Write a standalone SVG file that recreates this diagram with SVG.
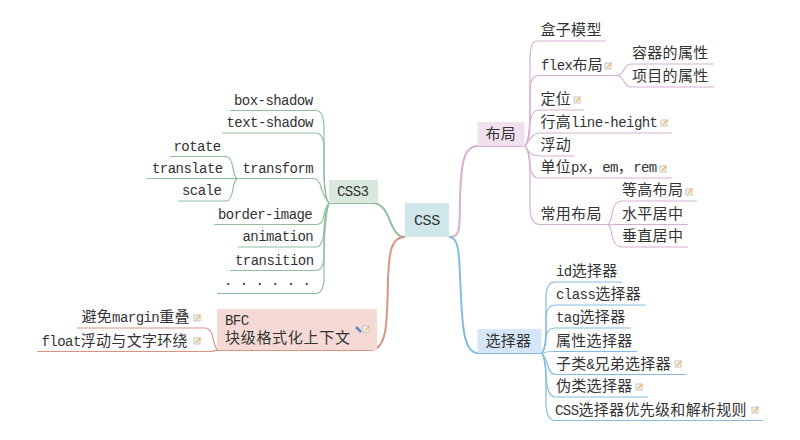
<svg xmlns="http://www.w3.org/2000/svg" width="800" height="440" viewBox="0 0 800 440">
<style>
.t{font-family:"Noto Sans CJK SC","Liberation Sans",sans-serif;font-size:15px;letter-spacing:.3px;fill:#333;transform:translateY(-1px)}
.m{font-family:"Liberation Mono","Noto Sans CJK SC",monospace;font-size:14px;letter-spacing:-.55px}
.c{fill:none;stroke-width:1.2}
.main{stroke-width:2}
.p{stroke:#d6b0d3}.b{stroke:#84bbe2}.g{stroke:#8dbf9d}.r{stroke:#d99482}
</style>
<defs>
<g id="note"><rect x="-3" y="-3" width="6" height="6" fill="#f5f5f0" stroke="#c4c4c4" stroke-width="1"/><path d="M-1 1.500L3.500 -3" stroke="#efb560" stroke-width="1.300" fill="none"/></g>
</defs>
<rect width="800" height="440" fill="#fff"/>
<g id="connectors">
<path class="c main p" d="M449 237C462 237 459 226 460 200C461 165 463 146 478 146L524 146"/>
<path class="c main b" d="M449 237C458 237 459 250 460 275C462 325 463 353 478 353L542 353"/>
<path class="c main g" d="M405 237C388 237 392 203 372 203L329 203"/>
<path class="c main r" d="M405 237C390 237 389 255 388 280C387 320 388 350 370 350L217 350"/>
<g>
<path class="c p" d="M525 146Q530 140 530 110L530 55Q531 41 537 41L606 41"/>
<path class="c p" d="M525 146Q530 140 530 110L530 88Q531 75.500 539 75.500L618 75.500"/>
<path class="c p" d="M525 146Q530 140 530 125Q531 110 539 110L584 110"/>
<path class="c p" d="M525 146Q530 138 534 135Q536 133 541 133L672 133"/>
<path class="c p" d="M525 146Q530 155 534 155Q536 156 541 156L575 156"/>
<path class="c p" d="M525 146Q530 152 530 165Q531 178 539 178L672 178"/>
<path class="c p" d="M525 146Q530 152 530 175L530 210Q531 224.500 540 224.500L608 224.500"/>
<path class="c p" d="M618 75.500Q622 74 625 68Q627 64 632 64L714 64"/>
<path class="c p" d="M618 75.500Q622 77 625 83Q627 87 632 87L714 87"/>
<path class="c p" d="M608 224.500Q611 222 612 214Q614 201 622 201L697 201"/>
<path class="c p" d="M608 224.500L688 224.500"/>
<path class="c p" d="M608 224.500Q611 227 612 235Q614 247 622 247L688 247"/>
</g>
<g>
<path class="c b" d="M542 353Q546 348 546 325L546 295Q547 282 555 282L622 282"/>
<path class="c b" d="M542 353Q546 348 546 330L546 316Q547 305 555 305L646 305"/>
<path class="c b" d="M542 353Q546 346 546 338Q547 328 555 328L631 328"/>
<path class="c b" d="M542 353Q547 351.500 554 351.500L637 351.500"/>
<path class="c b" d="M542 353Q546 358 548 366Q550 374.500 556 374.500L686 374.500"/>
<path class="c b" d="M542 353Q546 360 546 375Q547 397 555 397L648 397"/>
<path class="c b" d="M542 353Q546 362 546 385L546 405Q547 420.500 555 420.500L763 420.500"/>
</g>
<g>
<path class="c g" d="M329 203Q325 200 324 175L324 125Q323 110.500 316 110.500L230 110.500"/>
<path class="c g" d="M329 203Q325 200 324 175L324 146Q323 133 316 133L222 133"/>
<path class="c g" d="M329 203Q323 195 321 187Q319 178.500 313 178.500L147 178.500"/>
<path class="c g" d="M329 203Q325 208 324 215Q323 224.500 316 224.500L214 224.500"/>
<path class="c g" d="M329 203Q325 210 324 230Q323 247 316 247L238 247"/>
<path class="c g" d="M329 203Q325 212 324 245L324 258Q323 270.500 316 270.500L230 270.500"/>
<path class="c g" d="M329 203Q325 214 324 250L324 280Q323 293.500 316 293.500L217 293.500"/>
<path class="c g" d="M237 178.500Q234 176 233 168Q231 156.500 226 156.500L170 156.500"/>
<path class="c g" d="M237 178.500Q234 181 233 189Q231 201 226 201L178 201"/>
</g>
<g>
<path class="c r" d="M217 350Q214 345 213 338Q211 328 205 328L77 328"/>
<path class="c r" d="M217 350Q214 351.500 208 351.500L37 351.500"/>
</g>
</g>
<g id="node-css"><rect x="405" y="203" width="44" height="34" fill="#cfe6ea"/><text class="t m" x="414" y="226" style="font-size:15px;letter-spacing:-.4px">CSS</text></g>
<g id="node-layout"><rect x="477.500" y="122" width="47" height="24" fill="#f1e1ee"/><text class="t" x="485.500" y="140">布局</text></g>
<g id="node-selector"><rect x="477.500" y="329" width="64" height="24" fill="#d4e6f7"/><text class="t" x="485.500" y="347">选择器</text></g>
<g id="node-css3"><rect x="329" y="180" width="49" height="23" fill="#d8e8dc"/><text class="t m" x="337" y="197">CSS3</text></g>
<g id="node-bfc"><rect x="217" y="309" width="160" height="41" fill="#f5d9d5"/><text class="t" x="225" y="326"><tspan class="m">BFC</tspan><tspan x="225" dy="17.500" style="letter-spacing:.7px">块级格式化上下文</tspan></text><use href="#note" x="366" y="329"/><path d="M356 327L361 332" stroke="#5b8fc0" stroke-width="2.500"/></g>
<g id="n1"><text class="t" x="540.500" y="36">盒子模型</text></g>
<g id="n2"><text class="t" x="541" y="70.500"><tspan class="m">flex</tspan>布局</text><use href="#note" x="608" y="66"/></g>
<g id="n3"><text class="t" x="632" y="59">容器的属性</text></g>
<g id="n4"><text class="t" x="632" y="82">项目的属性</text></g>
<g id="n5"><text class="t" x="540.500" y="105">定位</text><use href="#note" x="577" y="100"/></g>
<g id="n6"><text class="t" x="540.500" y="128">行高<tspan class="m">line-height</tspan></text><use href="#note" x="664" y="123"/></g>
<g id="n7"><text class="t" x="540.500" y="151">浮动</text></g>
<g id="n8"><text class="t" x="540.500" y="173">单位<tspan class="m">px</tspan>，<tspan class="m">em</tspan>，<tspan class="m">rem</tspan></text><use href="#note" x="663" y="169"/></g>
<g id="n9"><text class="t" x="540.500" y="219.500">常用布局</text></g>
<g id="n10"><text class="t" x="622" y="196">等高布局</text><use href="#note" x="689" y="192"/></g>
<g id="n11"><text class="t" x="622" y="219.500">水平居中</text></g>
<g id="n12"><text class="t" x="622" y="242">垂直居中</text></g>
<g id="s1"><text class="t" x="556" y="277"><tspan class="m">id</tspan>选择器</text></g>
<g id="s2"><text class="t" x="556" y="300"><tspan class="m">class</tspan>选择器</text></g>
<g id="s3"><text class="t" x="556" y="323"><tspan class="m">tag</tspan>选择器</text></g>
<g id="s4"><text class="t" x="556" y="346.500">属性选择器</text></g>
<g id="s5"><text class="t" x="556" y="369.500">子类<tspan class="m">&amp;</tspan>兄弟选择器</text><use href="#note" x="678" y="364"/></g>
<g id="s6"><text class="t" x="556" y="392">伪类选择器</text><use href="#note" x="639" y="387"/></g>
<g id="s7"><text class="t" x="555" y="415.500"><tspan class="m">CSS</tspan>选择器优先级和解析规则</text><use href="#note" x="755" y="410"/></g>
<g id="g1"><text class="t m" x="234" y="105.500">box-shadow</text></g>
<g id="g2"><text class="t m" x="226.500" y="128">text-shadow</text></g>
<g id="g3"><text class="t m" x="242.500" y="173.500">transform</text></g>
<g id="g4"><text class="t m" x="173.500" y="151.500">rotate</text></g>
<g id="g5"><text class="t m" x="152" y="173.500">translate</text></g>
<g id="g6"><text class="t m" x="182" y="196">scale</text></g>
<g id="g7"><text class="t m" x="218" y="219.500">border-image</text></g>
<g id="g8"><text class="t m" x="242.500" y="242">animation</text></g>
<g id="g9"><text class="t m" x="235" y="265.500">transition</text></g>
<g id="g10"><text class="t m" x="224" y="286">. . . . . .</text></g>
<g id="r1"><text class="t" x="81.500" y="323">避免<tspan class="m">margin</tspan>重叠</text><use href="#note" x="197" y="318"/></g>
<g id="r2"><text class="t" x="41.500" y="346.500"><tspan class="m">float</tspan>浮动与文字环绕</text><use href="#note" x="197" y="341"/></g>
</svg>
